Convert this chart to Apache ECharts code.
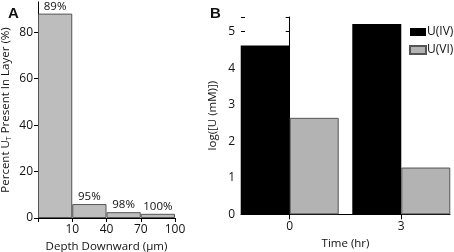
<!DOCTYPE html>
<html>
<head>
    <meta charset="utf-8" />
    <title>ECharts</title>
    <script src="https://cdn.jsdelivr.net/npm/echarts@6/dist/echarts.min.js"></script>
    <style>
        body { margin: 0; background: #fff; }
    </style>
</head>
<body>
    <div id="main" style="width: 454px;height:252px;"></div>

    <script type="text/javascript">
        // panel A: depth bins
        var depthLabels = ['', '10', '40', '70', '100'];
        var layerPercent = [88, 6, 2.5, 1.8];
        var cumulativeLabels = ['89%', '95%', '98%', '100%'];
        var percentTicks = [0, 20, 40, 60, 80];

        // panel B: uranium species
        var timeHr = [0, 3];
        var u4 = [4.62, 5.21];
        var u6 = [2.64, 1.28];

        var font = 'Open Sans';
        var txt = '#111';

        var myChart = echarts.init(document.getElementById('main'));

        var option = {
            animation: false,
            textStyle: { fontFamily: font },
            title: [
                { text: 'A', left: 3, top: 1, textStyle: { fontSize: 15, fontWeight: 'bold', color: txt, fontFamily: 'Liberation Sans' } },
                { text: 'B', left: 205, top: 1, textStyle: { fontSize: 15, fontWeight: 'bold', color: txt, fontFamily: 'Liberation Sans' } }
            ],
            legend: {
                orient: 'vertical',
                left: 404,
                top: 21,
                itemWidth: 16,
                itemHeight: 8,
                itemGap: 6,
                icon: 'rect',
                data: ['U(IV)', 'U(VI)'],
                textStyle: { fontSize: 12, color: txt, padding: [0, 0, 0, -4] }
            },
            grid: [
                { left: 38, top: 2, width: 137, height: 216, outerBoundsMode: 'none' },
                { left: 241, top: 17, width: 209, height: 197.3, outerBoundsMode: 'none' }
            ],
            xAxis: [
                {
                    type: 'value', gridIndex: 0, min: 0, max: 4, interval: 1,
                    name: 'Depth Downward (\u03bcm)', nameLocation: 'middle', nameGap: 23,
                    nameTextStyle: { fontSize: 11.5, color: txt },
                    axisLine: { lineStyle: { color: '#000' } },
                    axisTick: { length: 4, lineStyle: { color: '#000' } },
                    axisLabel: { fontSize: 12, color: txt, margin: 6,
                        formatter: function (v) { return depthLabels[v] || ''; } },
                    splitLine: { show: false }
                },
                {
                    type: 'value', gridIndex: 1, min: -1.31, max: 4.31,
                    name: 'Time (hr)', nameLocation: 'middle', nameGap: 23,
                    nameTextStyle: { fontSize: 11.5, color: txt },
                    axisLine: { lineStyle: { color: '#000' } },
                    axisTick: { length: 5, customValues: timeHr, lineStyle: { color: '#000' } },
                    axisLabel: { fontSize: 12, color: txt, margin: 6, customValues: timeHr },
                    splitLine: { show: false }
                }
            ],
            yAxis: [
                {
                    type: 'value', gridIndex: 0, min: 0, max: 93,
                    name: 'Percent U{sub|T} Present In Layer (%)', nameLocation: 'middle', nameGap: 26,
                    nameTextStyle: { fontSize: 11.5, color: txt,
                        rich: { sub: { fontSize: 7, verticalAlign: 'bottom', color: txt, padding: [6, 0, 0, 0] } } },
                    axisLine: { show: true, lineStyle: { color: '#000' } },
                    axisTick: { length: 4, customValues: percentTicks, lineStyle: { color: '#000' } },
                    axisLabel: { fontSize: 12, color: txt, margin: 5, customValues: percentTicks },
                    splitLine: { show: false }
                },
                {
                    type: 'value', gridIndex: 0, min: 0, max: 93, position: 'left',
                    axisLine: { show: false },
                    axisTick: { inside: true, length: 4, customValues: percentTicks, lineStyle: { color: '#000' } },
                    axisLabel: { show: false },
                    splitLine: { show: false }
                },
                {
                    type: 'value', gridIndex: 1, min: 0, max: 5.4, interval: 1,
                    name: 'log([U (mM)])', nameLocation: 'middle', nameGap: 22,
                    nameTextStyle: { fontSize: 11.5, color: txt },
                    axisLine: { show: true, lineStyle: { color: '#000' } },
                    axisTick: { length: 4, lineStyle: { color: '#000' } },
                    axisLabel: { fontSize: 12, color: txt, margin: 6,
                        formatter: function (v) { return v <= 5 ? v : ''; } },
                    splitLine: { show: false }
                },
                {
                    type: 'value', gridIndex: 1, min: 0, max: 5.4, interval: 1, position: 'left',
                    axisLine: { show: false },
                    axisTick: { inside: true, length: 4, lineStyle: { color: '#000' } },
                    axisLabel: { show: false },
                    splitLine: { show: false }
                }
            ],
            series: [
                {
                    type: 'bar', xAxisIndex: 0, yAxisIndex: 0,
                    barWidth: 34.25,
                    data: layerPercent.map(function (v, i) { return [i + 0.5, v]; }),
                    itemStyle: { color: '#bdbdbd', borderColor: '#555', borderWidth: 1 },
                    label: {
                        show: true, position: 'top', distance: 1, fontSize: 11.5, color: txt,
                        formatter: function (p) { return cumulativeLabels[p.dataIndex]; }
                    }
                },
                {
                    name: 'U(IV)', type: 'bar', xAxisIndex: 1, yAxisIndex: 2,
                    barWidth: 49, barGap: '0%',
                    data: timeHr.map(function (t, i) { return [t, u4[i]]; }),
                    itemStyle: { color: '#000', borderColor: '#000', borderWidth: 0 }
                },
                {
                    name: 'U(VI)', type: 'bar', xAxisIndex: 1, yAxisIndex: 2,
                    barWidth: 49, barGap: '0%',
                    data: timeHr.map(function (t, i) { return [t, u6[i]]; }),
                    itemStyle: { color: '#b3b3b3', borderColor: '#555', borderWidth: 1 }
                }
            ]
        };

        myChart.setOption(option);
    </script>
</body>
</html>
